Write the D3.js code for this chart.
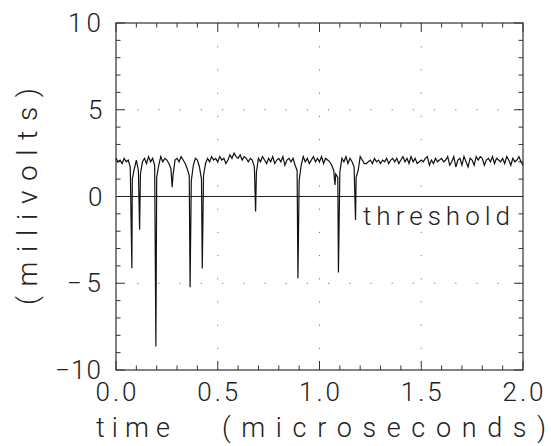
<!DOCTYPE html>
<html>
<head>
<meta charset="utf-8">
<script src="https://cdn.jsdelivr.net/npm/d3@7"></script>
<style>
  body { margin: 0; background: #fff; }
  text { font-family: Roboto, "DejaVu Sans", sans-serif; font-weight: 300; fill: #222; }
</style>
</head>
<body>
<div id="chart"></div>
<script>
const width = 551, height = 446;
const margin = {top: 23, right: 28, bottom: 76, left: 116};

// scope trace, sampled every 0.01 microseconds (0.00 .. 2.00)
const sampleStep = 0.01;
const baseline = [
  2.2, 2.0, 2.1, 1.9, 2.2, 2.0, 2.1, 1.7, 1.0, 1.6,
  2.1, 1.5, 1.3, 2.0, 2.2, 1.9, 2.3, 2.0, 2.2, 1.8,
  1.1, 1.8, 2.3, 2.0, 2.2, 2.1, 1.9, 1.6, 1.2, 2.1,
  2.2, 2.0, 2.3, 2.1, 1.9, 1.6, 1.2, 0.9, 1.8, 2.2,
  2.1, 1.7, 1.0, 1.2, 1.9, 2.2, 2.0, 2.3, 2.1, 2.2,
  2.0, 2.3, 2.1, 2.2, 1.9, 2.1, 2.4, 2.2, 2.5, 2.3,
  2.2, 2.4, 2.1, 2.3, 2.2, 2.0, 2.2, 2.1, 1.7, 1.4,
  2.2, 2.0, 2.3, 2.1, 1.9, 2.2, 2.0, 2.3, 1.9, 2.1,
  2.2, 2.0, 2.3, 1.8, 2.1, 2.2, 2.0, 2.2, 1.8, 1.5,
  0.9, 1.8, 2.3, 2.0, 2.2, 1.9, 2.1, 2.3, 2.0, 2.2,
  2.0, 2.3, 1.9, 2.2, 2.1, 2.0, 1.8, 1.5, 1.3, 1.1,
  1.4, 2.2, 2.0, 2.3, 1.9, 2.2, 2.0, 1.7, 1.1, 1.5,
  2.3, 2.1, 1.9, 1.9, 2.0, 2.1, 1.9, 2.2, 2.0, 2.1,
  1.9, 2.1, 2.0, 2.2, 1.9, 2.1, 2.2, 2.0, 2.2, 1.9,
  2.1, 2.3, 2.0, 2.2, 1.9, 2.3, 2.0, 2.2, 1.9, 2.0,
  2.1, 2.0, 2.2, 2.3, 1.8, 2.1, 1.9, 2.2, 2.0, 2.1,
  2.2, 2.0, 2.1, 2.3, 1.8, 2.0, 2.3, 1.7, 2.1, 2.2,
  1.8, 2.3, 2.0, 1.7, 2.2, 2.1, 1.8, 2.3, 2.1, 2.3,
  2.2, 1.8, 2.1, 2.2, 2.0, 2.3, 1.9, 2.2, 2.1, 2.0,
  2.2, 1.9, 2.3, 2.1, 1.8, 2.2, 2.0, 2.1, 2.3, 2.0,
  1.8
];

// negative-going pulses: time (microseconds) and minimum (millivolts)
const spikeTimes  = [0.078, 0.116, 0.196, 0.276, 0.364, 0.424, 0.686, 0.894, 1.076, 1.093, 1.177];
const spikeValues = [-4.13, -1.92, -8.65, 0.54, -5.23, -4.15, -0.87, -4.71, 0.67, -4.38, -1.35];

const threshold = 0;
const xLabels = [0, 0.5, 1, 1.5, 2];
const yLabels = [10, 5, 0, -5, -10];
const gridX = [0.5, 1, 1.5];
const gridY = [5, -5];

const points = baseline.map((v, i) => [i * sampleStep, v])
  .concat(spikeTimes.map((t, i) => [t, spikeValues[i]]))
  .sort((a, b) => a[0] - b[0]);

const svg = d3.select("#chart")
  .append("svg")
  .attr("width", width)
  .attr("height", height);

const x = d3.scaleLinear().domain([0, 2]).range([margin.left, width - margin.right]);
const y = d3.scaleLinear().domain([-10, 10]).range([height - margin.bottom, margin.top]);

// dotted grid
svg.append("g")
  .selectAll("line.gx")
  .data(gridX)
  .join("line")
  .attr("x1", d => x(d)).attr("x2", d => x(d))
  .attr("y1", y(10)).attr("y2", y(-10))
  .attr("stroke", "#777").attr("stroke-width", 1)
  .attr("stroke-dasharray", "1.2,22");
svg.append("g")
  .selectAll("line.gy")
  .data(gridY)
  .join("line")
  .attr("x1", x(0)).attr("x2", x(2))
  .attr("y1", d => y(d)).attr("y2", d => y(d))
  .attr("stroke", "#777").attr("stroke-width", 1)
  .attr("stroke-dasharray", "1.2,20");

// inward ticks on all four sides
const xMinor = d3.range(0, 21).map(i => i / 10);
const yMinor = d3.range(-10, 11);
const tickLen = (major) => major ? 9 : 4.5;
const isHalf = d => Math.abs(d * 2 - Math.round(d * 2)) < 1e-6;

const ticks = svg.append("g").attr("stroke", "#333").attr("stroke-width", 1);
ticks.selectAll("line.xb").data(xMinor).join("line")
  .attr("x1", d => x(d)).attr("x2", d => x(d))
  .attr("y1", y(-10)).attr("y2", d => y(-10) - tickLen(isHalf(d)));
ticks.selectAll("line.xt").data(xMinor).join("line")
  .attr("x1", d => x(d)).attr("x2", d => x(d))
  .attr("y1", y(10)).attr("y2", d => y(10) + tickLen(isHalf(d)));
ticks.selectAll("line.yl").data(yMinor).join("line")
  .attr("y1", d => y(d)).attr("y2", d => y(d))
  .attr("x1", x(0)).attr("x2", d => x(0) + tickLen(d % 5 === 0));
ticks.selectAll("line.yr").data(yMinor).join("line")
  .attr("y1", d => y(d)).attr("y2", d => y(d))
  .attr("x1", x(2)).attr("x2", d => x(2) - tickLen(d % 5 === 0));

// frame
svg.append("rect")
  .attr("x", x(0)).attr("y", y(10))
  .attr("width", x(2) - x(0)).attr("height", y(-10) - y(10))
  .attr("fill", "none").attr("stroke", "#333").attr("stroke-width", 1.2);

// threshold line
svg.append("line")
  .attr("x1", x(0)).attr("x2", x(2))
  .attr("y1", y(threshold)).attr("y2", y(threshold))
  .attr("stroke", "#222").attr("stroke-width", 1);

// trace
svg.append("path")
  .datum(points)
  .attr("fill", "none")
  .attr("stroke", "#111")
  .attr("stroke-width", 1.2)
  .attr("d", d3.line().x(d => x(d[0])).y(d => y(d[1])));

// tick labels
svg.append("g")
  .selectAll("text")
  .data(xLabels)
  .join("text")
  .attr("x", d => x(d))
  .attr("y", 401)
  .attr("text-anchor", "middle")
  .attr("font-size", 26)
  .attr("textLength", 41)
  .attr("lengthAdjust", "spacing")
  .text(d => d.toFixed(1));

const yLabelWidth = {"10": 33, "5": 13, "0": 13, "-5": 34, "-10": 46};
svg.append("g")
  .selectAll("text")
  .data(yLabels)
  .join("text")
  .attr("x", d => x(0) - 15 - yLabelWidth[d])
  .attr("y", d => y(d) + 9)
  .attr("font-size", 26)
  .attr("textLength", d => yLabelWidth[d])
  .attr("lengthAdjust", "spacing")
  .text(d => d < 0 ? "\u2212" + Math.abs(d) : String(d));

// axis titles
svg.append("text")
  .attr("x", 96).attr("y", 437)
  .attr("font-size", 27)
  .attr("textLength", 74).attr("lengthAdjust", "spacing")
  .text("time");
svg.append("text")
  .attr("x", 222).attr("y", 437)
  .attr("font-size", 27)
  .attr("textLength", 324).attr("lengthAdjust", "spacing")
  .text("(microseconds)");
svg.append("text")
  .attr("transform", `translate(37,305) rotate(-90)`)
  .attr("font-size", 28)
  .attr("textLength", 217).attr("lengthAdjust", "spacing")
  .text("(milivolts)");

// threshold label
svg.append("text")
  .attr("x", 363).attr("y", 225)
  .attr("font-size", 26)
  .attr("textLength", 147).attr("lengthAdjust", "spacing")
  .text("threshold");
</script>
</body>
</html>
